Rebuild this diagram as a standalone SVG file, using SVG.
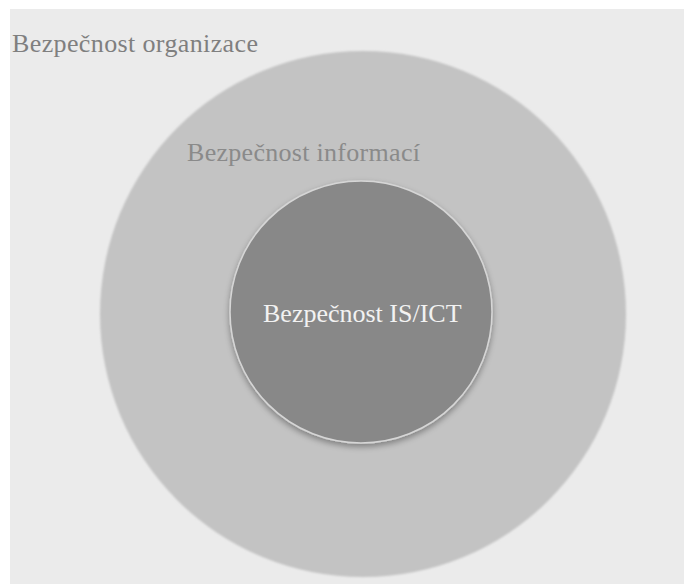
<svg xmlns="http://www.w3.org/2000/svg" width="684" height="584" viewBox="0 0 684 584">
  <style>
    .lbl { font-family: "Liberation Serif", "Times New Roman", serif; font-size: 26px; }
  </style>
  <defs>
    <filter id="soft" x="-10%" y="-10%" width="120%" height="120%">
      <feGaussianBlur stdDeviation="1.2"/>
    </filter>
    <filter id="shadow" x="-20%" y="-20%" width="140%" height="140%">
      <feGaussianBlur in="SourceAlpha" stdDeviation="3"/>
      <feOffset dy="3"/>
      <feComponentTransfer><feFuncA type="linear" slope="0.35"/></feComponentTransfer>
      <feMerge><feMergeNode/><feMergeNode in="SourceGraphic"/></feMerge>
    </filter>
  </defs>

  <!-- page and backdrop -->
  <rect x="0" y="0" width="684" height="584" fill="#ffffff"/>
  <rect x="10" y="9" width="674" height="575" fill="#ebebeb"/>

  <g id="organization">
    <text class="lbl" x="12" y="52" fill="#7f7f7f" textLength="246">Bezpečnost organizace</text>
  </g>

  <g id="information">
    <circle cx="363" cy="314" r="263" fill="#c3c3c3" filter="url(#soft)"/>
    <text class="lbl" x="187" y="161" fill="#8a8a8a" textLength="233">Bezpečnost informací</text>
  </g>

  <g id="is-ict">
    <circle cx="361" cy="312" r="131" fill="#888888" stroke="#d6d6d6" stroke-width="1.5" filter="url(#shadow)"/>
    <text class="lbl" x="263" y="322" fill="#f2f2f2">Bezpečnost IS/ICT</text>
  </g>

  <g id="connectors"/>
</svg>
